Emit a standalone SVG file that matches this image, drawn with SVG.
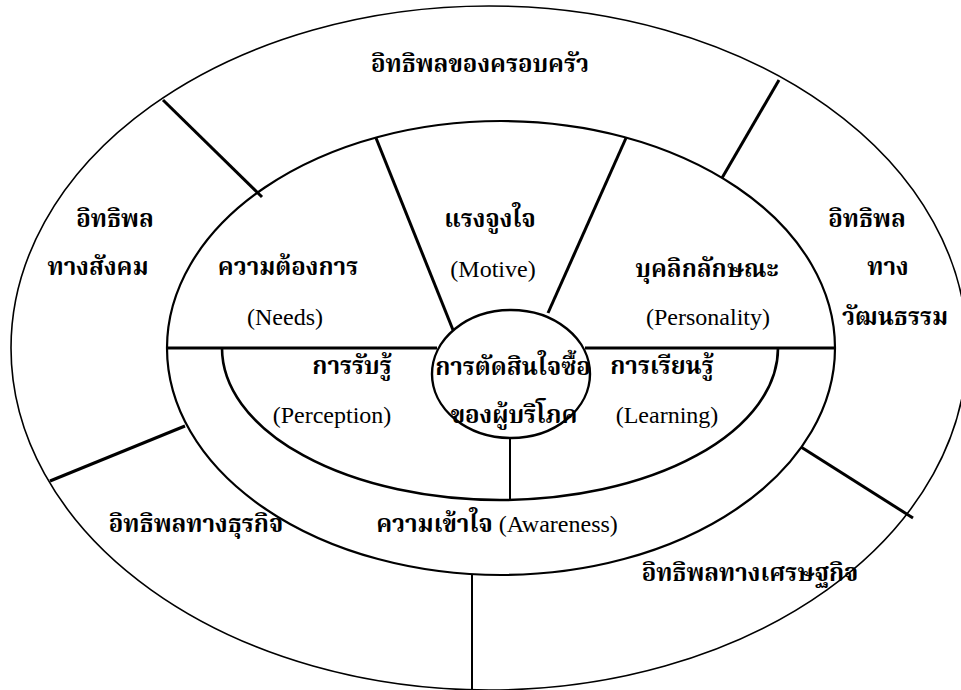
<svg xmlns="http://www.w3.org/2000/svg" width="961" height="690" viewBox="0 0 961 690">
<style>
.ring{fill:none;stroke:#000;}
.div{stroke:#000;stroke-width:3;stroke-linecap:butt;}
.thin{stroke:#000;stroke-width:2;}
text{font-family:"Liberation Serif","Noto Serif Thai","Noto Sans Thai",serif;font-size:24px;fill:#000;text-anchor:middle;}
.th{font-weight:bold;}
</style>
<rect width="961" height="690" fill="#fff"/>
<g id="rings">
<ellipse class="ring" cx="489" cy="348" rx="478" ry="342" stroke-width="1.6"/>
<ellipse class="ring" cx="501" cy="348" rx="334" ry="227" stroke-width="2.2"/>
<path class="ring" d="M222 348 A278 152 0 0 0 778 348" stroke-width="2.6"/>
<line class="div" x1="167" y1="348" x2="437" y2="348"/>
<line class="div" x1="585" y1="348" x2="835" y2="348"/>
<ellipse class="ring" cx="511" cy="374" rx="79" ry="64" stroke-width="2.4" fill="#fff"/>
</g>
<g id="connectors">
<line class="div" x1="163" y1="100" x2="262" y2="197"/>
<line class="div" x1="779" y1="80" x2="722" y2="178"/>
<line class="div" x1="376" y1="138" x2="453" y2="330"/>
<line class="div" x1="626" y1="138" x2="548" y2="313"/>
<line class="div" x1="50" y1="481" x2="185" y2="426"/>
<line class="div" x1="801" y1="447" x2="913" y2="518"/>
<line class="thin" x1="510" y1="438" x2="510" y2="500"/>
<line class="thin" x1="472" y1="575" x2="472" y2="690"/>
</g>
<g id="family"><text class="th" x="480" y="72">อิทธิพลของครอบครัว</text></g>
<g id="social"><text class="th" x="115" y="227">อิทธิพล</text><text class="th" x="98" y="275">ทางสังคม</text></g>
<g id="culture"><text class="th" x="867" y="227">อิทธิพล</text><text class="th" x="888" y="275">ทาง</text><text class="th" x="895" y="325">วัฒนธรรม</text></g>
<g id="needs"><text class="th" x="288" y="275">ความต้องการ</text><text x="285" y="325">(Needs)</text></g>
<g id="motive"><text class="th" x="490" y="227">แรงจูงใจ</text><text x="493" y="277">(Motive)</text></g>
<g id="personality"><text class="th" x="707" y="277">บุคลิกลักษณะ</text><text x="708" y="325">(Personality)</text></g>
<g id="perception"><text class="th" x="352" y="374">การรับรู้</text><text x="332" y="423">(Perception)</text></g>
<g id="decision"><text class="th" x="513" y="375">การตัดสินใจซื้อ</text><text class="th" x="514" y="423">ของผู้บริโภค</text></g>
<g id="learning"><text class="th" x="662" y="374">การเรียนรู้</text><text x="667" y="423">(Learning)</text></g>
<g id="business"><text class="th" x="196" y="532">อิทธิพลทางธุรกิจ</text></g>
<g id="awareness"><text x="497" y="532"><tspan class="th">ความเข้าใจ</tspan> (Awareness)</text></g>
<g id="economic"><text class="th" x="750" y="581">อิทธิพลทางเศรษฐกิจ</text></g>
</svg>
